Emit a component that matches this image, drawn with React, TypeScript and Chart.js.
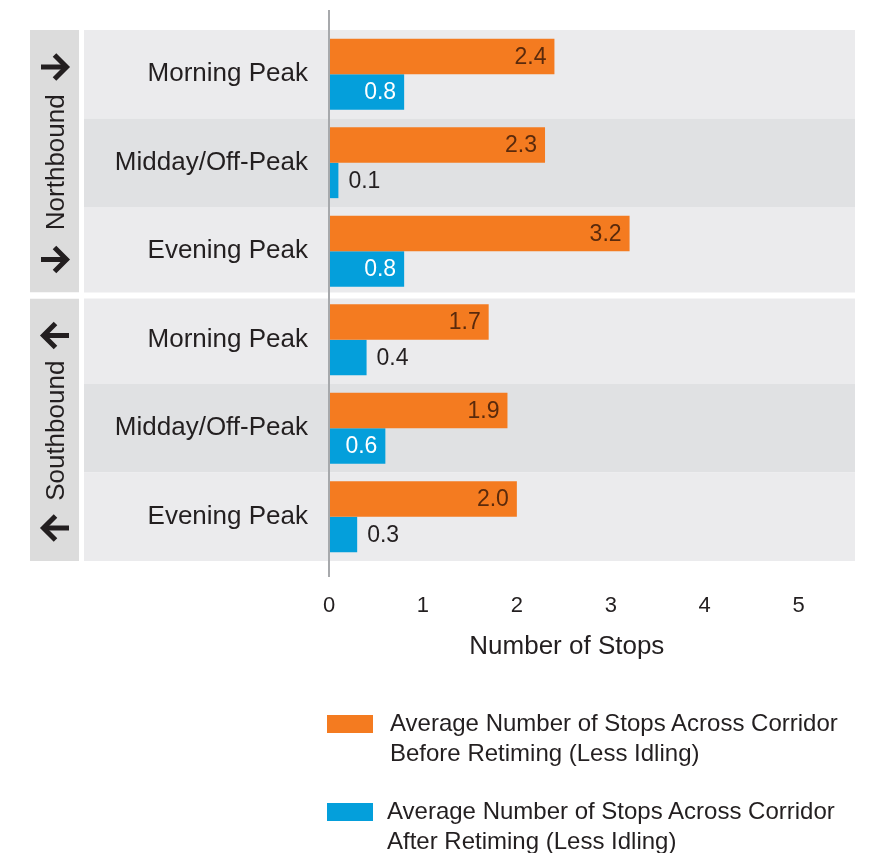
import React, { useEffect, useRef } from "react";
import { Chart, registerables } from "chart.js";

Chart.register(...registerables);

const categories = [
  "Morning Peak",
  "Midday/Off-Peak",
  "Evening Peak",
  "Morning Peak",
  "Midday/Off-Peak",
  "Evening Peak",
];
const beforeValues = [2.4, 2.3, 3.2, 1.7, 1.9, 2.0];
const afterValues = [0.8, 0.1, 0.8, 0.4, 0.6, 0.3];
const xTickValues = [0, 1, 2, 3, 4, 5];
const xTitle = "Number of Stops";
const groupNames = ["Northbound", "Southbound"];
const groupStart = [0, 3];
const groupEnd = [2, 5];
const groupDirection = [1, -1];
const seriesNames = [
  ["Average Number of Stops Across Corridor", "Before Retiming (Less Idling)"],
  ["Average Number of Stops Across Corridor", "After Retiming (Less Idling)"],
];

const ORANGE = "#F47B20";
const BLUE = "#049FDB";
const TEXT = "#231F20";
const FONT = "'Liberation Sans', Arial, Helvetica, sans-serif";

function drawArrow(ctx: CanvasRenderingContext2D, cx: number, cy: number, dir: number) {
  ctx.save();
  ctx.translate(cx, cy);
  ctx.scale(dir, 1);
  ctx.strokeStyle = TEXT;
  ctx.lineWidth = 5;
  ctx.lineCap = "butt";
  ctx.lineJoin = "miter";
  ctx.beginPath();
  ctx.moveTo(-14, 0);
  ctx.lineTo(11, 0);
  ctx.stroke();
  ctx.beginPath();
  ctx.moveTo(-0.5, -12);
  ctx.lineTo(11.5, 0);
  ctx.lineTo(-0.5, 12);
  ctx.stroke();
  ctx.restore();
}

const backgroundPlugin = {
  id: "bandBackground",
  beforeDraw(chart: any) {
    const { ctx, chartArea, scales } = chart;
    const y = scales.y;
    const band = y.getPixelForValue(1) - y.getPixelForValue(0);
    ctx.save();
    categories.forEach((_, i) => {
      const c = y.getPixelForValue(i);
      ctx.fillStyle = i % 3 === 1 ? "#E0E1E3" : "#EBEBED";
      ctx.fillRect(84, c - band / 2, chartArea.right - 84, band);
    });
    groupNames.forEach((name, g) => {
      let top = y.getPixelForValue(groupStart[g]) - band / 2;
      let bottom = y.getPixelForValue(groupEnd[g]) + band / 2;
      if (g > 0) top += 3;
      if (g < groupNames.length - 1) bottom -= 3;
      ctx.fillStyle = "#DCDCDC";
      ctx.fillRect(30, top, 49, bottom - top);
      if (g > 0) {
        ctx.fillStyle = "#FFFFFF";
        ctx.fillRect(0, top - 6, chartArea.right + 20, 6);
      }
      const cx = 55;
      drawArrow(ctx, cx, top + 37, groupDirection[g]);
      drawArrow(ctx, cx, bottom - 33, groupDirection[g]);
      ctx.save();
      ctx.translate(57, (top + bottom) / 2 + 1);
      ctx.rotate(-Math.PI / 2);
      ctx.fillStyle = TEXT;
      ctx.font = `26px ${FONT}`;
      ctx.textAlign = "center";
      ctx.textBaseline = "middle";
      ctx.fillText(name, 0, 0);
      ctx.restore();
    });
    ctx.restore();
  },
  afterDatasetsDraw(chart: any) {
    const { ctx, scales } = chart;
    const x = scales.x;
    const zero = x.getPixelForValue(0);
    ctx.save();
    ctx.font = `23px ${FONT}`;
    ctx.textBaseline = "middle";
    chart.data.datasets.forEach((ds: any, di: number) => {
      const meta = chart.getDatasetMeta(di);
      meta.data.forEach((bar: any, i: number) => {
        const v = ds.data[i];
        const label = v.toFixed(1);
        if (v > 0.5) {
          ctx.textAlign = "right";
          ctx.fillStyle = di === 0 ? "#5A2A0C" : "#FFFFFF";
          ctx.fillText(label, bar.x - 8, bar.y + 1);
        } else {
          ctx.textAlign = "left";
          ctx.fillStyle = TEXT;
          ctx.fillText(label, bar.x + 10, bar.y + 1);
        }
      });
    });
    ctx.strokeStyle = "#A7A9AC";
    ctx.lineWidth = 2;
    ctx.beginPath();
    ctx.moveTo(zero, 10);
    ctx.lineTo(zero, 577);
    ctx.stroke();
    // axis title, centred under the tick range
    const first = x.getPixelForValue(xTickValues[0]);
    const last = x.getPixelForValue(xTickValues[xTickValues.length - 1]);
    ctx.font = `26px ${FONT}`;
    ctx.fillStyle = TEXT;
    ctx.textAlign = "center";
    ctx.textBaseline = "middle";
    ctx.fillText(xTitle, (first + last) / 2 + 3, x.top + 86);
    ctx.restore();
  },
};

export default function App() {
  const canvasRef = useRef<HTMLCanvasElement | null>(null);

  useEffect(() => {
    document.body.style.margin = "0";
    document.body.style.overflow = "hidden";
    const canvas = canvasRef.current;
    if (!canvas) return;
    const chart = new Chart(canvas, {
      type: "bar",
      data: {
        labels: categories,
        datasets: [
          {
            label: seriesNames[0].join(" "),
            data: beforeValues,
            backgroundColor: ORANGE,
            borderWidth: 0,
            categoryPercentage: 0.8,
            barPercentage: 1.0,
          },
          {
            label: seriesNames[1].join(" "),
            data: afterValues,
            backgroundColor: BLUE,
            borderWidth: 0,
            categoryPercentage: 0.8,
            barPercentage: 1.0,
          },
        ],
      },
      options: {
        indexAxis: "y",
        animation: false,
        responsive: false,
        maintainAspectRatio: false,
        layout: { padding: { top: 30, right: 14, left: 0, bottom: 182 } },
        plugins: {
          legend: { display: false },
          tooltip: { enabled: false },
        },
        scales: {
          x: {
            type: "linear",
            min: 0,
            max: 5.6,
            grid: { display: false, drawTicks: false },
            border: { display: false },
            afterBuildTicks: (scale: any) => {
              scale.ticks = xTickValues.map((v) => ({ value: v }));
            },
            afterFit: (scale: any) => {
              scale.height = 110;
              scale.paddingLeft = 0;
              scale.paddingRight = 0;
            },
            ticks: {
              padding: 32,
              color: TEXT,
              font: { family: FONT, size: 22 },
              callback: (v: any) => String(v),
            },
            title: { display: false },
          },
          y: {
            type: "category",
            grid: { display: false, drawTicks: false },
            border: { display: false },
            afterFit: (scale: any) => {
              scale.width = 329;
              scale.paddingTop = 0;
              scale.paddingBottom = 0;
            },
            ticks: {
              autoSkip: false,
              padding: 21,
              color: TEXT,
              font: { family: FONT, size: 26 },
            },
          },
        },
      },
      plugins: [backgroundPlugin],
    });
    return () => chart.destroy();
  }, []);

  const legendText: React.CSSProperties = {
    position: "absolute",
    fontFamily: FONT,
    fontSize: "24px",
    lineHeight: "30px",
    color: TEXT,
    whiteSpace: "nowrap",
  };

  return (
    <div style={{ position: "relative", width: 869, height: 853, background: "#FFFFFF" }}>
      <canvas ref={canvasRef} width={869} height={853} style={{ display: "block", width: 869, height: 853 }} />
      <div style={{ position: "absolute", left: 327, top: 715, width: 46, height: 18, background: ORANGE }} />
      <div style={{ ...legendText, left: 390, top: 708 }}>
        {seriesNames[0][0]}
        <br />
        {seriesNames[0][1]}
      </div>
      <div style={{ position: "absolute", left: 327, top: 803, width: 46, height: 18, background: BLUE }} />
      <div style={{ ...legendText, left: 387, top: 796 }}>
        {seriesNames[1][0]}
        <br />
        {seriesNames[1][1]}
      </div>
    </div>
  );
}
